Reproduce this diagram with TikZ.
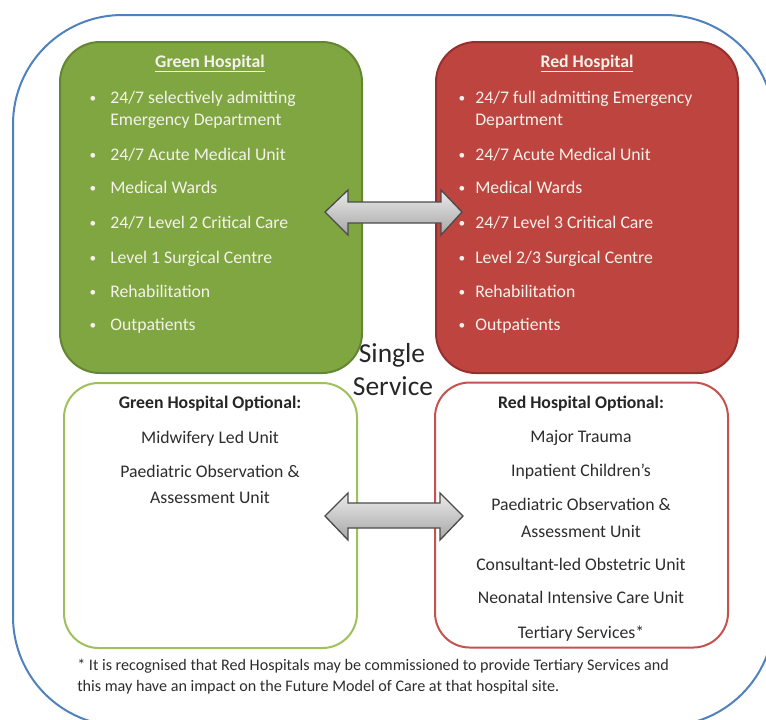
\documentclass[tikz,border=0pt]{standalone}
\usepackage{fontspec}
\setmainfont{Carlito}
\usepackage{xcolor}
\usepackage{tikz}
\usetikzlibrary{positioning}

\definecolor{hospgreen}{RGB}{128,166,66}
\definecolor{hospgreendark}{RGB}{100,134,50}
\definecolor{hospred}{RGB}{190,68,64}
\definecolor{hospreddark}{RGB}{150,48,46}
\definecolor{optgreen}{RGB}{160,192,92}
\definecolor{optred}{RGB}{198,82,80}
\definecolor{outerblue}{RGB}{79,129,189}
\definecolor{listwhite}{RGB}{244,242,234}
\definecolor{bodygrey}{RGB}{45,45,45}
\definecolor{arrowline}{RGB}{75,75,75}

\newcommand{\listfont}{\fontsize{13.3pt}{16.5pt}\selectfont}

\tikzset{
  hospbox/.style={rounded corners=30pt, line width=1.5pt, minimum width=226.5pt, minimum height=248.25pt, inner sep=0pt},
  optbox/.style={rounded corners=26pt, line width=1.5pt, fill=white, minimum width=219.75pt, minimum height=198.75pt, inner sep=0pt},
  listdot/.style={anchor=base, inner sep=0pt, text=listwhite, font=\fontsize{10pt}{12pt}\selectfont},
  listtext/.style={anchor=base west, inner sep=0pt, text=listwhite, font=\listfont},
  boxtitle/.style={anchor=base, inner sep=0pt, text=listwhite, font=\listfont\bfseries},
  opttitle/.style={anchor=base, inner sep=0pt, text=black!85, font=\listfont\bfseries},
  opttext/.style={anchor=base, inner sep=0pt, text=bodygrey, font=\listfont},
  bigtext/.style={anchor=base, inner sep=0pt, text=black!85, font=\fontsize{20.6pt}{24pt}\selectfont},
  foottext/.style={anchor=base west, inner sep=0pt, text=bodygrey, font=\fontsize{12.1pt}{14pt}\selectfont},
  linkarrow/.style={draw=arrowline, line width=1pt, line join=miter, top color=black!8, bottom color=black!35}
}

\begin{document}
\begin{tikzpicture}[x=0.75pt,y=0.75pt,yscale=-1,xscale=1]
\useasboundingbox (0,0) rectangle (766,719);

% outer frame
\draw [outerblue, line width=1.5pt, rounded corners=82pt] (13,15) rectangle (774,726);

% the four boxes
\node [hospbox, fill=hospgreen, draw=hospgreendark] (gbox) at (211,207.5) {};
\node [hospbox, fill=hospred, draw=hospreddark] (rbox) at (587,207.5) {};
\node [optbox, draw=optgreen] (gopt) at (210.5,515.5) {};
\node [optbox, draw=optred] (ropt) at (581.5,515) {};

% green hospital
\node [boxtitle] (gtitle) at (210,67) {\underline{Green Hospital}};
\node [listdot] (gd1) at (93,102) {\textbullet};
\node [listtext] (g1a) at (110,103) {24/7 selectively admitting};
\node [listtext] (g1b) at (110,125) {Emergency Department};
\node [listdot] (gd2) at (93,159) {\textbullet};
\node [listtext] (g2) at (110,160) {24/7 Acute Medical Unit};
\node [listdot] (gd3) at (93,192) {\textbullet};
\node [listtext] (g3) at (110,193) {Medical Wards};
\node [listdot] (gd4) at (93,227) {\textbullet};
\node [listtext] (g4) at (110,228) {24/7 Level 2 Critical Care};
\node [listdot] (gd5) at (93,262) {\textbullet};
\node [listtext] (g5) at (110,263) {Level 1 Surgical Centre};
\node [listdot] (gd6) at (93,296) {\textbullet};
\node [listtext] (g6) at (110,297) {Rehabilitation};
\node [listdot] (gd7) at (93,329) {\textbullet};
\node [listtext] (g7) at (110,330) {Outpatients};

% red hospital
\node [boxtitle] (rtitle) at (587,67) {\underline{Red Hospital}};
\node [listdot] (rd1) at (462,102) {\textbullet};
\node [listtext] (r1a) at (475,103) {24/7 full admitting Emergency};
\node [listtext] (r1b) at (475,125) {Department};
\node [listdot] (rd2) at (462,159) {\textbullet};
\node [listtext] (r2) at (475,160) {24/7 Acute Medical Unit};
\node [listdot] (rd3) at (462,192) {\textbullet};
\node [listtext] (r3) at (475,193) {Medical Wards};
\node [listdot] (rd4) at (462,227) {\textbullet};
\node [listtext] (r4) at (475,228) {24/7 Level 3 Critical Care};
\node [listdot] (rd5) at (462,262) {\textbullet};
\node [listtext] (r5) at (475,263) {Level 2/3 Surgical Centre};
\node [listdot] (rd6) at (462,296) {\textbullet};
\node [listtext] (r6) at (475,297) {Rehabilitation};
\node [listdot] (rd7) at (462,329) {\textbullet};
\node [listtext] (r7) at (475,330) {Outpatients};

% optional services
\node [opttitle] (gotitle) at (210,408) {Green Hospital Optional:};
\node [opttext] (go1) at (210,443) {Midwifery Led Unit};
\node [opttext] (go2a) at (210,477) {Paediatric Observation \&};
\node [opttext] (go2b) at (210,503) {Assessment Unit};

\node [opttitle] (rotitle) at (581,408) {Red Hospital Optional:};
\node [opttext] (ro1) at (581,442) {Major Trauma};
\node [opttext] (ro2) at (581,476) {Inpatient Children’s};
\node [opttext] (ro3a) at (581,510) {Paediatric Observation \&};
\node [opttext] (ro3b) at (581,537) {Assessment Unit};
\node [opttext] (ro4) at (581,570) {Consultant-led Obstetric Unit};
\node [opttext] (ro5) at (581,603) {Neonatal Intensive Care Unit};
\node [opttext] (ro6) at (581,638) {Tertiary Services*};

% middle label
\node [bigtext] (single) at (392,362) {Single};
\node [bigtext] (service) at (393,395) {Service};

% footnote
\node [foottext] (foot1) at (77,670) {* It is recognised that Red Hospitals may be commissioned to provide Tertiary Services and};
\node [foottext] (foot2) at (77,691) {this may have an impact on the Future Model of Care at that hospital site.};

% double arrows between the boxes
\draw [linkarrow] (325,212) -- (348,190) -- (348,202) -- (441,202) -- (441,190) -- (462,212) -- (441,235) -- (441,223) -- (348,223) -- (348,235) -- cycle;
\draw [linkarrow] (325,516) -- (348,493) -- (348,503) -- (440,503) -- (440,493) -- (463,516) -- (440,540) -- (440,528) -- (348,528) -- (348,540) -- cycle;

\end{tikzpicture}
\end{document}
